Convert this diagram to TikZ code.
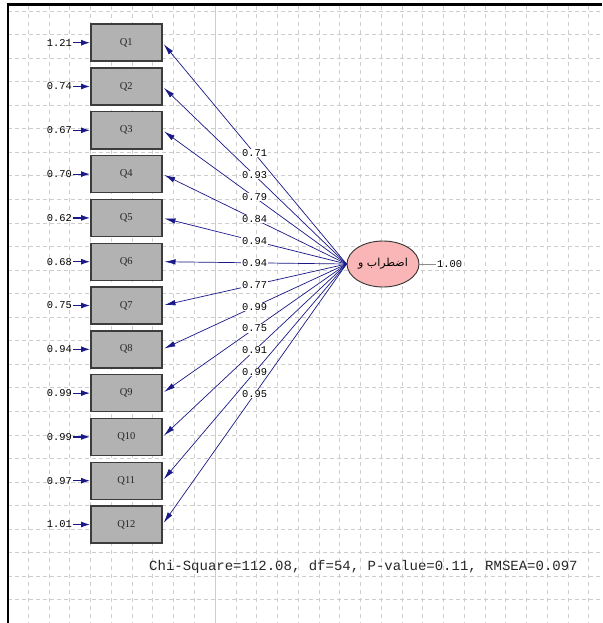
\documentclass[tikz,border=0pt]{standalone}
\usepackage{fontspec}
\usetikzlibrary{arrows.meta,shapes.geometric}
\newfontfamily\monofnt{Liberation Mono}
\newfontfamily\seriffnt{Liberation Serif}
\newfontfamily\arabicfont[Script=Arabic]{DejaVu Sans}
\TeXXeTstate=1
\definecolor{gridc}{RGB}{205,205,205}
\definecolor{boxfill}{RGB}{178,178,178}
\definecolor{boxline}{RGB}{60,60,60}
\definecolor{navyc}{RGB}{25,25,135}
\definecolor{pinkc}{RGB}{250,182,182}
\begin{document}
\begin{tikzpicture}[x=1pt,y=-1pt,
  gridv/.style={gridc, line width=0.8pt, dash pattern=on 4pt off 4pt},
  gridh/.style={gridc, line width=0.8pt, dash pattern=on 4pt off 3pt},
  obs/.style={draw=boxline, line width=1.4pt, fill=boxfill, minimum width=71pt, minimum height=37pt, inner sep=0pt, font=\seriffnt\fontsize{10.5}{11}\selectfont, text=black!85},
  lat/.style={ellipse, draw=black!80, line width=0.9pt, fill=pinkc, minimum width=72pt, minimum height=46pt, inner sep=0pt},
  errlbl/.style={inner sep=1pt, text=black, font=\monofnt\fontsize{10.4}{11}\selectfont},
  lbl/.style={fill=white, text=black, inner sep=0.6pt, font=\monofnt\fontsize{10.4}{11}\selectfont},
  errarrow/.style={navyc, line width=1.2pt, -{Latex[length=9pt,width=6pt]}},
  load/.style={navyc, line width=0.7pt, -{Latex[length=11pt,width=5.5pt]}, shorten >=2pt}
]
\useasboundingbox (0,0) rectangle (602,623);
\fill[white] (0,0) rectangle (602,623);
% grid
\foreach \k in {0,...,27} \draw[gridv] ({28.3+20.76*\k},6) -- ({28.3+20.76*\k},623);
\foreach \k in {0,...,25} \draw[gridh] (8,{11+23.55*\k}) -- (602,{11+23.55*\k});
\draw[gridc, line width=1.2pt] (215.1,6) -- (215.1,623);
% frame
\draw[black, line width=2.7pt] (6.7,4.7) -- (602,4.7);
\draw[black, line width=2.7pt] (8,3.35) -- (8,623);
% observed boxes
\foreach \i in {1,...,12} \node[obs] (q\i) at (126.3,{42.7+43.8*(\i-1)}) {Q\i};
% latent
\node[lat] (lv) at (383,264) {\arabicfont\fontsize{11}{13}\selectfont\beginR اضطراب و\endR};
% error terms
\foreach \i/\v in {1/1.21,2/0.74,3/0.67,4/0.70,5/0.62,6/0.68,7/0.75,8/0.94,9/0.99,10/0.99,11/0.97,12/1.01}{
  \node[errlbl, anchor=east] (e\i) at (73,{42.7+43.8*(\i-1)}) {\v};
  \draw[errarrow] (e\i.east) -- (q\i.west);
}
% loadings
\foreach \i/\v in {1/0.71,2/0.93,3/0.79,4/0.84,5/0.94,6/0.94,7/0.77,8/0.99,9/0.75,10/0.91,11/0.99,12/0.95}{
  \draw[load] (lv.west) -- node[lbl] {\v} (q\i.east);
}
% latent variance
\node[errlbl, anchor=west] (var) at (436,264) {1.00};
\draw[black!45, line width=0.7pt] (lv.east) -- (var.west);
% fit statistics
\node[anchor=west, inner sep=0pt, text=black!85, font=\monofnt\fontsize{14}{16}\selectfont] (fitstat) at (149,566.7) {Chi-Square=112.08, df=54, P-value=0.11, RMSEA=0.097};
\end{tikzpicture}
\end{document}
